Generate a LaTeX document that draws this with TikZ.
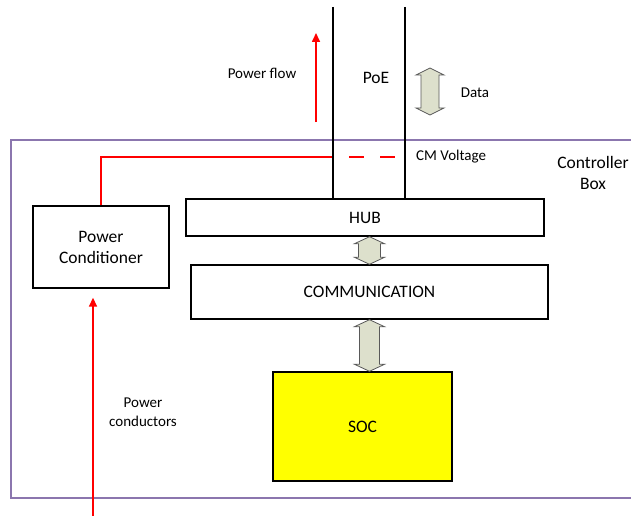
\documentclass[tikz,border=0pt]{standalone}
\usepackage{fontspec}
\setmainfont{Carlito}
\usetikzlibrary{positioning,arrows.meta,calc}
\definecolor{cFrame}{HTML}{8B76AE}
\definecolor{cPower}{HTML}{FF0000}
\definecolor{cBus}{HTML}{DDE0CC}
\definecolor{cSoc}{HTML}{FFFF00}
\tikzset{
  blk/.style={draw, line width=1.4pt, align=center, inner sep=0pt,
              font=\fontsize{17.5}{21}\selectfont},
  socb/.style={blk, fill=cSoc},
  frm/.style={draw=cFrame, line width=1.4pt},
  wire/.style={line width=1.6pt},
  pwr/.style={cPower, line width=1.6pt},
  arp/.style={pwr, -{Triangle[length=9pt,width=8pt]}},
  bus/.style={draw=black!65, fill=cBus, line width=0.8pt, line join=miter},
  lbl/.style={inner sep=0pt, align=center, font=\fontsize{15}{18.5}\selectfont},
  lblb/.style={lbl, font=\fontsize{17.5}{21}\selectfont},
}
% fat double arrow: top tip, bottom tip, shaft half width, head half width
\newcommand{\busarrow}[4]{%
  \draw[bus] (#1) -- ($(#1)+(#4,7)$) -- ($(#1)+(#3,7)$) -- ($(#2)+(#3,-7)$)
    -- ($(#2)+(#4,-7)$) -- (#2) -- ($(#2)+(-#4,-7)$) -- ($(#2)+(-#3,-7)$)
    -- ($(#1)+(-#3,7)$) -- ($(#1)+(-#4,7)$) -- cycle;}

\begin{document}
\begin{tikzpicture}[x=1pt,y=-1pt]
  \useasboundingbox (0,0) rectangle (631,516);
  % controller box, open to the right
  \draw[frm] (645,140) -| (11,498) -- (645,498);

  \node[blk, minimum width=358pt, minimum height=37pt] (hub) at (365,217.5) {HUB};
  \node[blk, minimum width=357pt, minimum height=54pt] (comm) at (369.5,292) {COMMUNICATION};
  \node[socb, minimum width=179pt, minimum height=109pt] (soc) at (362.5,426.5) {SOC};
  \node[blk, minimum width=136pt, minimum height=82pt] (pc) at (101,247) {Power\\Conditioner};
  \node[lblb] (ctrl) at (593,173) {Controller\\Box};

  % CM voltage path
  \coordinate (poeL) at (333,7);
  \coordinate (poeR) at (405,7);
  \coordinate (cm) at (0,157);
  \draw[pwr] (pc.north) |- (cm -| poeL);
  \draw[pwr, dash pattern=on 15pt off 16pt, dash phase=15pt] (cm -| poeL) -- (cm -| poeR);
  \node[lbl, anchor=west] (cmv) at (416,157) {CM Voltage};

  % PoE cable
  \draw[wire] (poeL) -- (poeL |- hub.north);
  \draw[wire] (poeR) -- (poeR |- hub.north);
  \node[lblb] (poe) at (376,78) {PoE};

  \coordinate (pfB) at (316,122);
  \draw[arp] (pfB) -- ++(0,-89);
  \node[lbl] (pf) at (262,73) {Power flow};

  \coordinate (dT) at (430,68);
  \coordinate (dB) at (430,115);
  \busarrow{dT}{dB}{9}{14}
  \node[lbl] (data) at (475,93) {Data};

  \coordinate (b1T) at (hub.south -| comm.north);
  \busarrow{b1T}{comm.north}{11}{15}
  \coordinate (b2B) at (soc.north -| comm.south);
  \busarrow{comm.south}{b2B}{10}{15}

  % power in
  \coordinate (pcin) at (93,516);
  \coordinate (pcend) at (pc.south -| pcin);
  \draw[arp] (pcin) -- ($(pcend)+(0,9)$);
  \node[lbl] (pcond) at (143,412) {Power\\conductors};
\end{tikzpicture}
\end{document}
